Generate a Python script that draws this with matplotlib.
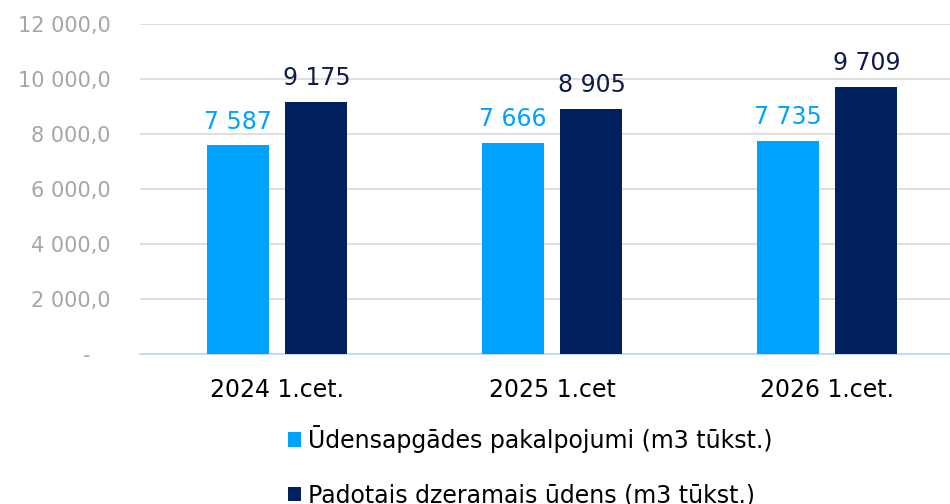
import matplotlib
matplotlib.use("Agg")
import matplotlib.pyplot as plt
import numpy as np
from matplotlib.ticker import FuncFormatter

categories = ["2024 1.cet.", "2025 1.cet", "2026 1.cet."]
series_names = ["Ūdensapgādes pakalpojumi (m3 tūkst.)", "Padotais dzeramais ūdens (m3 tūkst.)"]
udensapgade = [7587, 7666, 7735]
padotais = [9175, 8905, 9709]
yticks = [0, 2000, 4000, 6000, 8000, 10000, 12000]

c_light = "#00A2FF"
c_dark = "#002060"
c_dark_txt = "#0E1A4A"

plt.rcParams['font.family'] = ['DejaVu Sans']
fig = plt.figure(figsize=(9.5, 5.04), dpi=100)
ax = fig.add_axes([139.5/950, 150/504, 825/950, 330/504])

x = np.arange(len(categories))
w = 0.2255
off = 0.1436
b1 = ax.bar(x - off, udensapgade, w, color=c_light, label=series_names[0], zorder=3)
b2 = ax.bar(x + off, padotais, w, color=c_dark, label=series_names[1], zorder=3)

def fmt_int(v):
    return f"{int(round(v)):,}".replace(",", " ")

for bars, vals, col in [(b1, udensapgade, c_light), (b2, padotais, c_dark_txt)]:
    for r, v in zip(bars, vals):
        ax.annotate(fmt_int(v), (r.get_x() + r.get_width()/2, v), xytext=(0, 8.5),
                    textcoords="offset points", ha="center", va="bottom",
                    fontsize=17, color=col)

ax.set_xlim(-0.5, 2.5)
ax.set_ylim(0, 12000)
ax.set_yticks(yticks)

def yfmt(v, pos):
    if v == 0:
        return "-   "
    return f"{int(v):,}".replace(",", " ") + ",0"
ax.yaxis.set_major_formatter(FuncFormatter(yfmt))
ax.set_xticks(x)
ax.set_xticklabels(categories)
ax.tick_params(axis='y', length=0, pad=21, labelsize=15, labelcolor="#A6A6A6")
ax.tick_params(axis='x', length=0, pad=17, labelsize=17, labelcolor="#000000")
ax.grid(axis='y', color="#D9D9D9", linewidth=1.2, zorder=0)
for s in ["top", "right", "left"]:
    ax.spines[s].set_visible(False)
ax.spines["bottom"].set_color("#C6D9F6")
ax.spines["bottom"].set_linewidth(1.5)

fig.legend(handles=[b1, b2], loc="upper left", bbox_to_anchor=(288/950, 1 - 425/504),
           frameon=False, fontsize=17, handlelength=0.55, handleheight=0.55,
           handletextpad=0.3, labelspacing=1.3, borderaxespad=0, borderpad=0)

fig.savefig("out.png", dpi=100)
